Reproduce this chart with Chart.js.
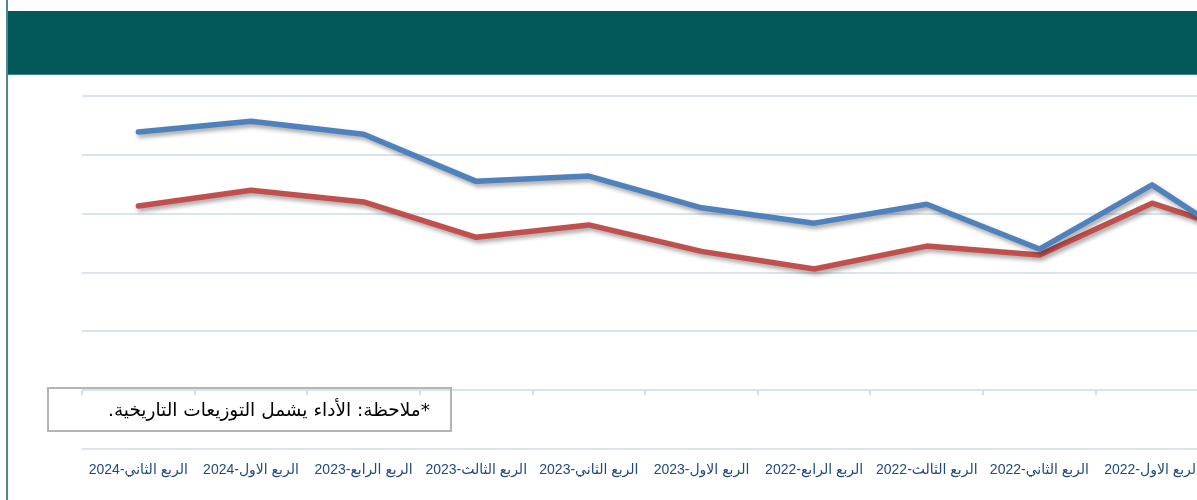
<!DOCTYPE html>
<html>
<head>
<meta charset="utf-8">
<script src="https://cdn.jsdelivr.net/npm/chart.js@4"></script>
<style>
  body { margin: 0; width: 1197px; height: 500px; overflow: hidden; background: #fff; position: relative; }
  #frame { position: absolute; left: 6px; top: 0; width: 2px; height: 500px; background: #4b8890; }
  #band { position: absolute; left: 8px; top: 11px; width: 1189px; height: 63px; background: #03585a; border-bottom: 1px solid #3f8486; }
  #wrap { position: absolute; left: 0; top: 0; }
  #note { position: absolute; left: 47px; top: 387px; width: 401px; height: 41px; border: 2px solid #b4b4b4;
          direction: rtl; text-align: right; font-family: "DejaVu Sans", Arial, sans-serif; font-size: 18.5px;
          line-height: 41px; color: #000; }
  #note span { margin-right: 20px; }
</style>
</head>
<body>
<div id="band"></div>
<div id="wrap"><canvas id="chart" width="1330" height="500"></canvas></div>
<div id="frame"></div>
<div id="note"><span>*ملاحظة: الأداء يشمل التوزيعات التاريخية.</span></div>
<script>
// quarters, newest on the left
const labels = ['الربع الثاني-2024', 'الربع الاول-2024', 'الربع الرابع-2023', 'الربع الثالث-2023',
  'الربع الثاني-2023', 'الربع الاول-2023', 'الربع الرابع-2022', 'الربع الثالث-2022',
  'الربع الثاني-2022', 'الربع الاول-2022', 'الربع الرابع-2021'];
const blueValues = [4.39, 4.57, 4.35, 3.55, 3.64, 3.10, 2.84, 3.16, 2.40, 3.49, 2.24];
const redValues = [3.13, 3.40, 3.20, 2.60, 2.81, 2.36, 2.06, 2.45, 2.30, 3.18, 2.55];

// drop shadow under the lines
const shadowPlugin = {
  id: 'shadow',
  beforeDatasetsDraw(chart) {
    const ctx = chart.ctx;
    ctx.save();
    ctx.shadowColor = 'rgba(0,0,0,0.35)';
    ctx.shadowBlur = 4;
    ctx.shadowOffsetX = 2;
    ctx.shadowOffsetY = 3;
  },
  afterDatasetsDraw(chart) {
    chart.ctx.restore();
  }
};

// category tick marks hanging from the zero line
const zeroTicks = {
  id: 'zeroTicks',
  afterDraw(chart) {
    const x = chart.scales.x, y = chart.scales.y, ctx = chart.ctx;
    const y0 = y.getPixelForValue(0);
    const half = (x.getPixelForValue(1) - x.getPixelForValue(0)) / 2;
    ctx.save();
    ctx.strokeStyle = '#d3dff0';
    ctx.lineWidth = 2;
    ctx.beginPath();
    for (let i = 0; i <= labels.length; i++) {
      const px = Math.round(x.getPixelForValue(0) - half + i * half * 2);
      ctx.moveTo(px, y0);
      ctx.lineTo(px, y0 + 5);
    }
    ctx.stroke();
    ctx.restore();
  }
};

new Chart(document.getElementById('chart'), {
  type: 'line',
  data: {
    labels: labels,
    datasets: [
      { data: blueValues, borderColor: '#4f81bd', borderWidth: 5.5, pointRadius: 0, tension: 0, borderJoinStyle: 'round', borderCapStyle: 'round' },
      { data: redValues, borderColor: '#c0504d', borderWidth: 5.5, pointRadius: 0, tension: 0, borderJoinStyle: 'round', borderCapStyle: 'round' }
    ]
  },
  options: {
    responsive: false,
    animation: false,
    devicePixelRatio: 1,
    layout: { padding: { left: 82, top: 96, right: 9, bottom: 8 } },
    plugins: { legend: { display: false }, tooltip: { enabled: false } },
    scales: {
      x: {
        offset: true,
        grid: { display: false, drawTicks: false },
        border: { display: false },
        ticks: {
          autoSkip: false, maxRotation: 0, padding: 13,
          color: '#1f497d',
          font: { family: 'Liberation Sans, DejaVu Sans, sans-serif', size: 14 }
        }
      },
      y: {
        min: -1, max: 5,
        ticks: { display: false, stepSize: 1 },
        grid: { color: '#d9e4f2', lineWidth: 2, drawTicks: false },
        border: { display: false }
      }
    }
  },
  plugins: [shadowPlugin, zeroTicks]
});
</script>
</body>
</html>
